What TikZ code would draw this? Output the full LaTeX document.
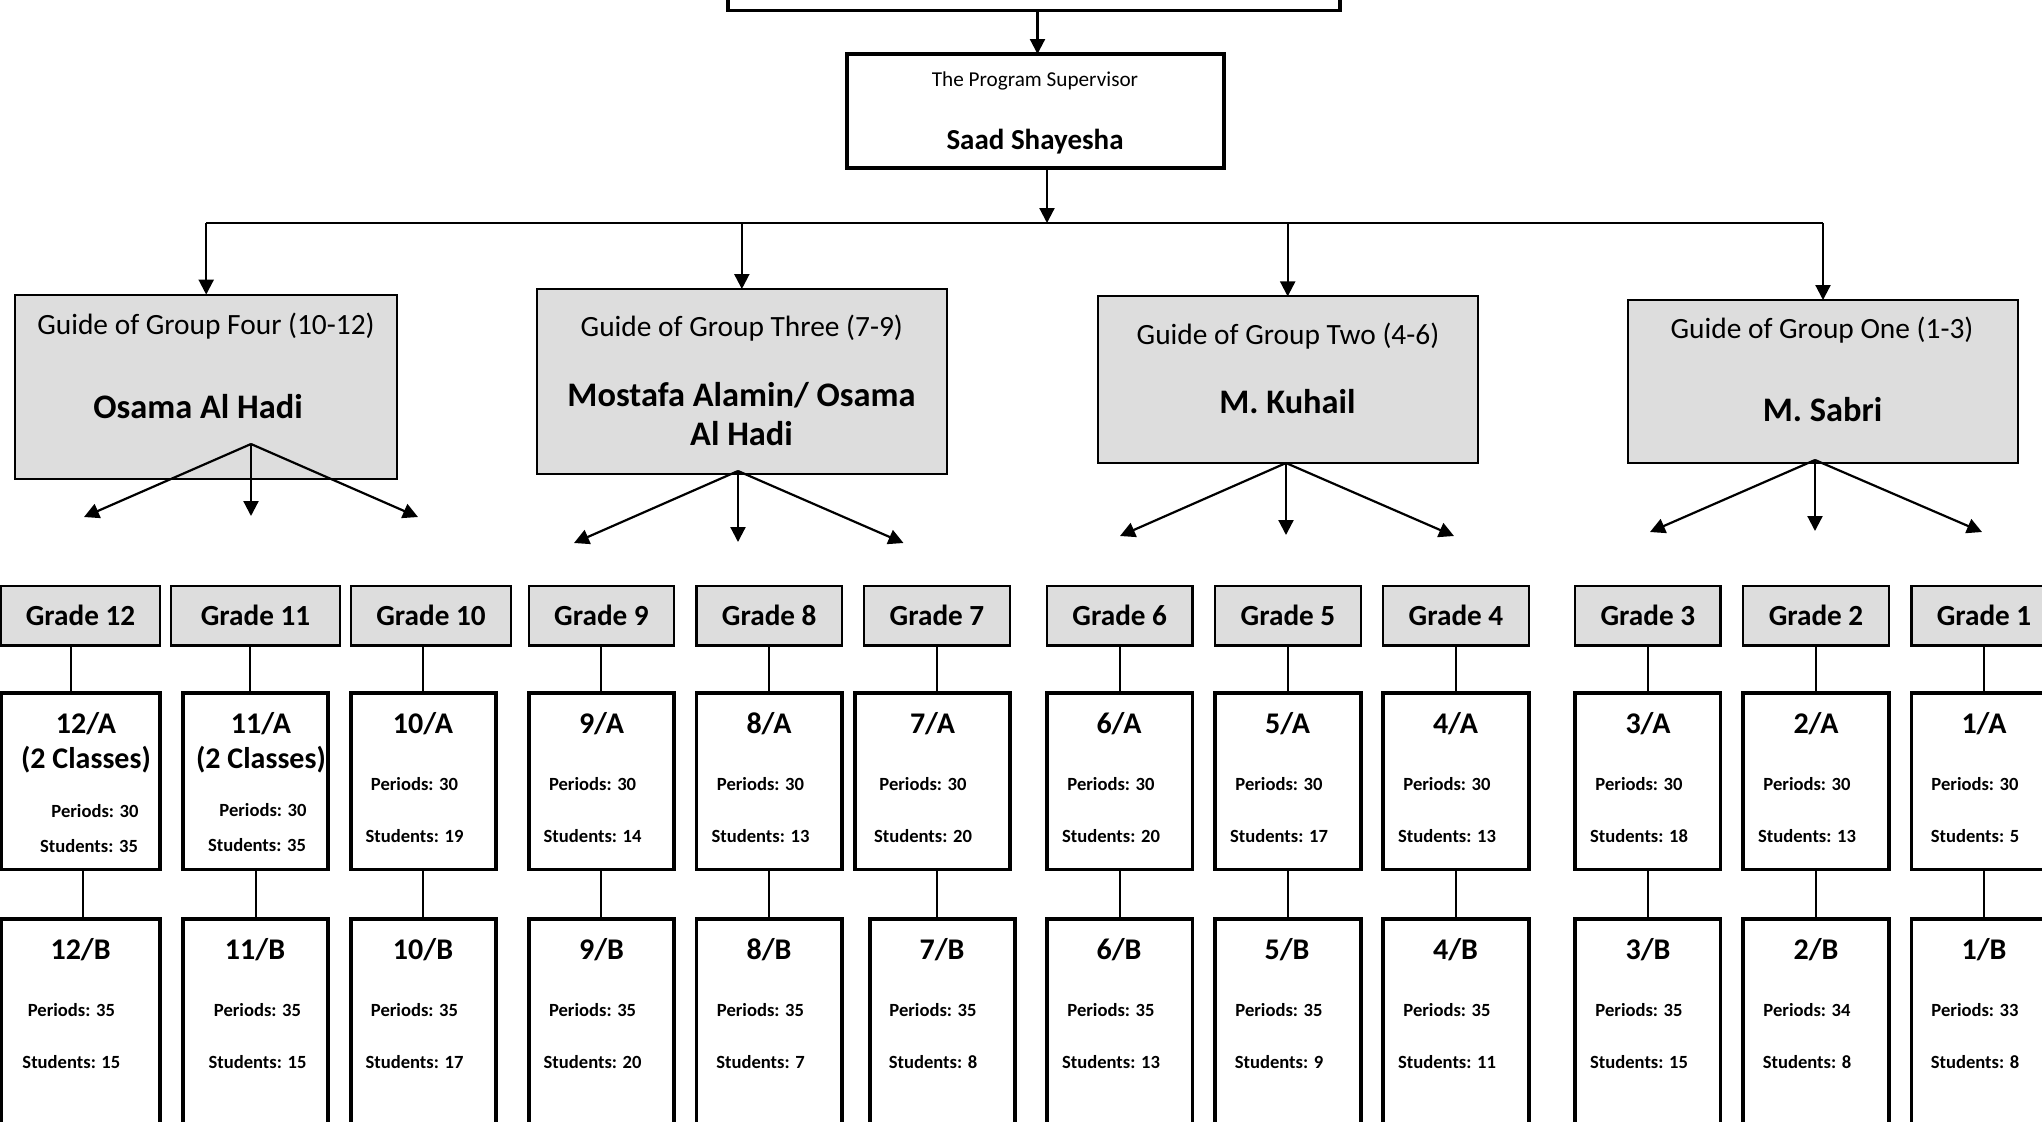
\documentclass[tikz,border=0pt]{standalone}
\usepackage{fontspec}
\setmainfont{Carlito}
\usetikzlibrary{arrows.meta}
\definecolor{boxgray}{RGB}{221,221,221}
\newcommand{\bx}[6]{\node[#2, minimum width={(#5-#3)*0.5pt}, minimum height={(#6-#4)*0.5pt}] (#1) at ({(#3+#5)/2},{(#4+#6)/2}) {};}
\tikzset{
  thickbox/.style={draw=black, line width=1.6pt, fill=white, inner sep=0pt, outer sep=0pt},
  guidebox/.style={draw=black, line width=1pt, fill=boxgray, inner sep=0pt, outer sep=0pt},
  gradebox/.style={draw=black, line width=1.4pt, fill=boxgray, inner sep=0pt, outer sep=0pt},
  classbox/.style={draw=black, line width=1.6pt, fill=white, inner sep=0pt, outer sep=0pt},
  arr/.style={line width=1.1pt, -{Triangle[length=7.5pt,width=7.5pt]}},
  busline/.style={line width=1.1pt},
  conn/.style={line width=1pt},
  txt/.style={inner sep=0pt, outer sep=0pt, text=black},
  supsm/.style={txt, font=\fontsize{10.6}{12}\selectfont},
  supbig/.style={txt, font=\bfseries\fontsize{14.5}{17}\selectfont},
  guidetxt/.style={txt, font=\fontsize{14.7}{17}\selectfont},
  nametxt/.style={txt, align=center, font=\bfseries\fontsize{17.2}{19.7}\selectfont},
  gradetxt/.style={txt, font=\bfseries\fontsize{14.6}{17}\selectfont},
  clstxt/.style={txt, font=\bfseries\fontsize{15}{18}\selectfont},
  infotxt/.style={txt, font=\bfseries\fontsize{9.3}{11}\selectfont},
}
\begin{document}
\begin{tikzpicture}[x=0.5pt,y=-0.5pt]
\useasboundingbox (0,0) rectangle (2042,1121);
\clip (0,0) rectangle (2042,1121);
\fill[white] (0,0) rectangle (2042,1121);

% ---------- top levels ----------
\bx{top}{thickbox}{728}{-40}{1340}{10.5}
\bx{sup}{thickbox}{847}{54}{1224}{168}
\node[supsm] (supt) at (1035,81) {The Program Supervisor};
\node[supbig] (supn) at (1035,142) {Saad Shayesha};

% ---------- guides ----------
\bx{g4}{guidebox}{15.4}{294.6}{397}{478.6}
\bx{g3}{guidebox}{536.7}{289}{947}{474}
\bx{g2}{guidebox}{1097.7}{296.4}{1477.7}{463}
\bx{g1}{guidebox}{1628}{300}{2018}{463}
\node[guidetxt] (g4t) at (206,325.7) {Guide of Group Four (10-12)};
\node[nametxt] (g4n) at (198,407) {Osama Al Hadi};
\node[guidetxt] (g3t) at (741.8,328.6) {Guide of Group Three (7-9)};
\node[nametxt] (g3n) at (741.5,414.3) {Mostafa Alamin/ Osama\\Al Hadi};
\node[guidetxt] (g2t) at (1288,335.7) {Guide of Group Two (4-6)};
\node[nametxt] (g2n) at (1287.4,401.8) {M. Kuhail};
\node[guidetxt] (g1t) at (1822,330) {Guide of Group One (1-3)};
\node[nametxt] (g1n) at (1822.6,410) {M. Sabri};

% ---------- upper connectors ----------
\coordinate (topx) at (1037.5,0);
\draw[arr] (top.south -| topx) -- (sup.north -| topx);
\coordinate (bus) at (1047,223);
\draw[arr] (sup.south -| bus) -- (bus);
\draw[busline] (g4.north |- bus) -- (g1.north |- bus);
\foreach \g in {g4,g3,g2,g1} \draw[arr] (\g.north |- bus) -- (\g.north);

% ---------- fans ----------
\coordinate (f4o) at (251,444);
\coordinate (f4a) at (84,517);
\coordinate (f4b) at (251,516);
\coordinate (f4c) at (418,517);
\coordinate (f3o) at (738,471);
\coordinate (f3a) at (574,543);
\coordinate (f3b) at (738,542);
\coordinate (f3c) at (903.5,543);
\coordinate (f2o) at (1286,463);
\coordinate (f2a) at (1120,536);
\coordinate (f2b) at (1286,535);
\coordinate (f2c) at (1454,536);
\coordinate (f1o) at (1815,460);
\coordinate (f1a) at (1650,532);
\coordinate (f1b) at (1815,531);
\coordinate (f1c) at (1982,532);
\foreach \f in {f4,f3,f2,f1} {
  \draw[arr] (\f o) -- (\f a);
  \draw[arr] (\f o) -- (\f b);
  \draw[arr] (\f o) -- (\f c);
}

% ---------- grade boxes ----------
\bx{gr12}{gradebox}{1}{586}{160}{645.5}
\bx{gr11}{gradebox}{171}{586}{340}{645.5}
\bx{gr10}{gradebox}{351}{586}{511}{645.5}
\bx{gr9}{gradebox}{529}{586}{674}{645.5}
\bx{gr8}{gradebox}{696.5}{586}{842}{645.5}
\bx{gr7}{gradebox}{864}{586}{1010}{645.5}
\bx{gr6}{gradebox}{1047}{586}{1192.5}{645.5}
\bx{gr5}{gradebox}{1215}{586}{1361}{645.5}
\bx{gr4}{gradebox}{1383}{586}{1529}{645.5}
\bx{gr3}{gradebox}{1575}{586}{1720.6}{645.5}
\bx{gr2}{gradebox}{1743}{586}{1889}{645.5}
\bx{gr1}{gradebox}{1911.5}{586}{2056.5}{645.5}
\foreach \n in {12,11,10,9,8,7,6,5,4,3,2,1}
  \node[gradetxt] (gr\n t) at (gr\n) {Grade \n};

% ---------- class A boxes ----------
\bx{a12}{classbox}{1}{693}{160}{869.4}
\bx{a11}{classbox}{183}{693}{328}{869.4}
\bx{a10}{classbox}{351}{693}{496}{869.4}
\bx{a9}{classbox}{529}{693}{674}{869.4}
\bx{a8}{classbox}{696.5}{693}{842}{869.4}
\bx{a7}{classbox}{855}{693}{1010}{869.4}
\bx{a6}{classbox}{1047}{693}{1192.5}{869.4}
\bx{a5}{classbox}{1215}{693}{1361}{869.4}
\bx{a4}{classbox}{1383}{693}{1529}{869.4}
\bx{a3}{classbox}{1575}{693}{1720.6}{869.4}
\bx{a2}{classbox}{1743}{693}{1889}{869.4}
\bx{a1}{classbox}{1911.5}{693}{2056.5}{869.4}

% ---------- class B boxes ----------
\bx{b12}{classbox}{1}{919}{160}{1170}
\bx{b11}{classbox}{183}{919}{328}{1170}
\bx{b10}{classbox}{351}{919}{496}{1170}
\bx{b9}{classbox}{529}{919}{674}{1170}
\bx{b8}{classbox}{696.5}{919}{842}{1170}
\bx{b7}{classbox}{870}{919}{1015}{1170}
\bx{b6}{classbox}{1047}{919}{1192.5}{1170}
\bx{b5}{classbox}{1215}{919}{1361}{1170}
\bx{b4}{classbox}{1383}{919}{1529}{1170}
\bx{b3}{classbox}{1575}{919}{1720.6}{1170}
\bx{b2}{classbox}{1743}{919}{1889}{1170}
\bx{b1}{classbox}{1911.5}{919}{2056.5}{1170}

% ---------- grade connectors ----------
\coordinate (ga12) at (71,0);   \coordinate (ab12) at (83,0);
\coordinate (ga11) at (250,0);  \coordinate (ab11) at (256,0);
\coordinate (ga10) at (423,0);  \coordinate (ab10) at (423,0);
\coordinate (ga9) at (601,0);   \coordinate (ab9) at (601,0);
\coordinate (ga8) at (769,0);   \coordinate (ab8) at (769,0);
\coordinate (ga7) at (937,0);   \coordinate (ab7) at (937,0);
\coordinate (ga6) at (1120,0);  \coordinate (ab6) at (1120,0);
\coordinate (ga5) at (1287.6,0);\coordinate (ab5) at (1287.6,0);
\coordinate (ga4) at (1455.7,0);\coordinate (ab4) at (1455.7,0);
\coordinate (ga3) at (1647.5,0);\coordinate (ab3) at (1647.5,0);
\coordinate (ga2) at (1816,0);  \coordinate (ab2) at (1816,0);
\coordinate (ga1) at (1984,0);  \coordinate (ab1) at (1984,0);
\foreach \n in {12,11,10,9,8,7,6,5,4,3,2,1} {
  \draw[conn] (gr\n.south -| ga\n) -- (a\n.north -| ga\n);
  \draw[conn] (a\n.south -| ab\n) -- (b\n.north -| ab\n);
}

% ---------- class A texts ----------
\node[clstxt] (a12l) at (86,723.5) {12/A};
\node[clstxt] (a12c) at (86,760) {(2 Classes)};
\node[infotxt] (a12p) at (95,811) {Periods: 30};
\node[infotxt] (a12s) at (89,846) {Students: 35};
\node[clstxt] (a11l) at (261,723.5) {11/A};
\node[clstxt] (a11c) at (261,760) {(2 Classes)};
\node[infotxt] (a11p) at (263,810) {Periods: 30};
\node[infotxt] (a11s) at (257,845) {Students: 35};
\foreach \n/\lx/\ix/\s in {10/423/414.5/19, 9/601.5/592.6/14, 8/769/760.5/13, 7/932.5/923/20, 6/1119/1111/20, 5/1287.6/1279/17, 4/1455.5/1447/13, 3/1648/1639/18, 2/1816/1807/13, 1/1984/1975/5} {
  \node[clstxt] (a\n l) at (\lx,723.5) {\n/A};
  \node[infotxt] (a\n p) at (\ix,784.3) {Periods: 30};
  \node[infotxt] (a\n s) at (\ix,836.5) {Students: \s};
}

% ---------- class B texts ----------
\foreach \n/\lx/\ix/\p/\s in {12/80.6/71.4/35/15, 11/255/257.5/35/15, 10/423/414.5/35/17, 9/601.5/592.6/35/20, 8/769/760.5/35/7, 7/942/933/35/8, 6/1119/1111/35/13, 5/1287/1279/35/9, 4/1455.5/1447/35/11, 3/1648/1639/35/15, 2/1816/1807/34/8, 1/1984/1975/33/8} {
  \node[clstxt] (b\n l) at (\lx,949.5) {\n/B};
  \node[infotxt] (b\n p) at (\ix,1010.5) {Periods: \p};
  \node[infotxt] (b\n s) at (\ix,1062) {Students: \s};
}
\end{tikzpicture}
\end{document}
